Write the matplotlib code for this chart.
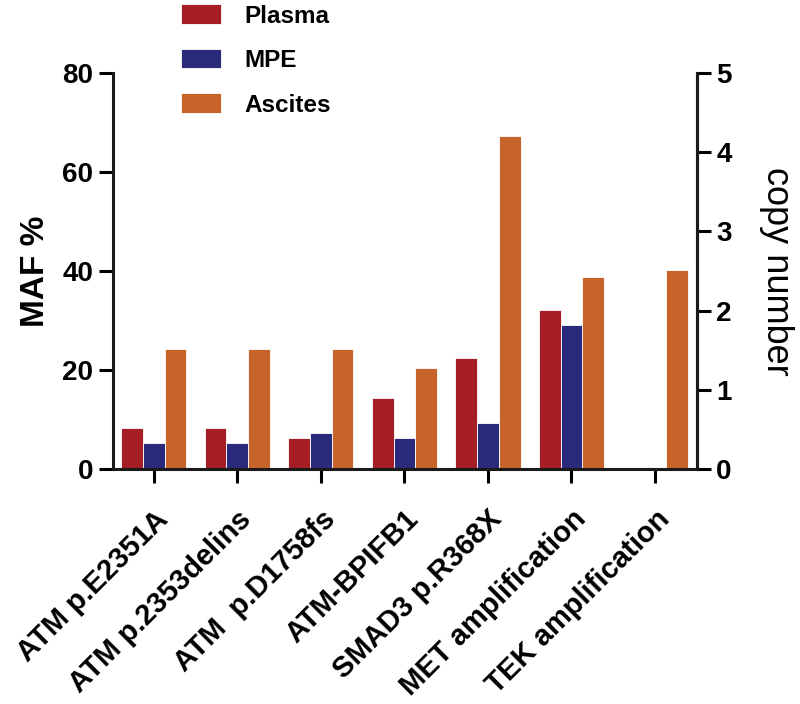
import numpy as np
import matplotlib
matplotlib.use("Agg")
from matplotlib import pyplot as plt

plt.rcParams['font.family'] = ['Liberation Sans', 'DejaVu Sans']

# data (MAF %, left axis)
genes = ["ATM p.E2351A", "ATM p.2353delins", "ATM  p.D1758fs", "ATM-BPIFB1",
         "SMAD3 p.R368X", "MET amplification", "TEK amplification"]
plasma = [8.2, 8.2, 6.3, 14.3, 22.4, 32.2, 0]
mpe = [5.3, 5.3, 7.3, 6.3, 9.3, 29.0, 0]
ascites = [24.2, 24.2, 24.2, 20.3, 67.4, 38.7, 40.3]

colors = {"Plasma": "#A51D25", "MPE": "#2A2A7C", "Ascites": "#C8632A"}

fig = plt.figure(figsize=(8, 7.04), dpi=100)
ax = fig.add_axes([0.141, 0.334, 0.730, 0.562])

x = np.arange(len(genes))
w = 0.26
ax.bar(x - w, plasma, w, color=colors["Plasma"], label="Plasma", edgecolor="white", linewidth=0.6)
ax.bar(x, mpe, w, color=colors["MPE"], label="MPE", edgecolor="white", linewidth=0.6)
ax.bar(x + w, ascites, w, color=colors["Ascites"], label="Ascites", edgecolor="white", linewidth=0.6)

ax.set_xlim(-0.49, 6.5)
ax.set_ylim(0, 80)
ax.set_yticks([0, 20, 40, 60, 80])
ax.set_xticks(x)
ax.set_xticklabels(genes, rotation=45, ha="right", rotation_mode="anchor",
                   fontsize=21, fontweight="bold")
ax.tick_params(axis="x", length=10, width=2.2, pad=16)
ax.tick_params(axis="y", length=10, width=2.2, labelsize=20, pad=4)
for t in ax.get_yticklabels():
    t.set_fontweight("bold")
ax.set_ylabel("MAF %", fontsize=24, fontweight="bold", labelpad=8)

for s in ["left", "bottom", "right"]:
    ax.spines[s].set_linewidth(2.2)
    ax.spines[s].set_color("#1a1a1a")
ax.spines["top"].set_visible(False)

ax2 = ax.twinx()
ax2.set_ylim(0, 5)
ax2.set_yticks([0, 1, 2, 3, 4, 5])
ax2.tick_params(axis="y", length=10, width=2.2, labelsize=20, pad=4)
for t in ax2.get_yticklabels():
    t.set_fontweight("bold")
ax2.set_ylabel("copy number", fontsize=26, rotation=270, labelpad=45)
for s in ["top", "left", "bottom"]:
    ax2.spines[s].set_visible(False)
ax2.spines["right"].set_linewidth(2.2)
ax2.spines["right"].set_color("#1a1a1a")

handles, labels = ax.get_legend_handles_labels()
fig.legend(handles, labels, loc="upper left", bbox_to_anchor=(0.211, 1.011),
           frameon=False, prop={"weight": "bold", "size": 17.5},
           handlelength=1.65, handleheight=0.85, handletextpad=0.95,
           labelspacing=0.88, borderpad=0)

fig.savefig("out.png", dpi=100)
